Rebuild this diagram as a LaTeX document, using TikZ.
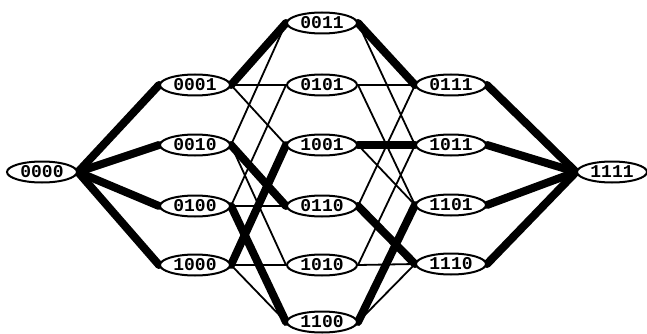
\documentclass[tikz,border=0pt]{standalone}
\usepackage{fontspec}
\setmonofont{Liberation Mono}
\usetikzlibrary{shapes.geometric}
\pgfdeclarelayer{edges}
\pgfsetlayers{edges,main}
\begin{document}
\begin{tikzpicture}[x=1pt,y=-1pt,
  vtx/.style={ellipse,draw,line width=2pt,fill=white,minimum width=70pt,minimum height=21pt,inner sep=0pt,font=\ttfamily\bfseries\fontsize{18}{18}\selectfont},
  thin/.style={line width=1.8pt},
  heavy/.style={line width=8pt,line cap=round}]
\useasboundingbox (0,0) rectangle (647,334);
% level 0
\node[vtx] (n0000) at (42,172) {0000};
% level 1
\node[vtx] (n0001) at (195,85) {0001};
\node[vtx] (n0010) at (195,145) {0010};
\node[vtx] (n0100) at (195,206) {0100};
\node[vtx] (n1000) at (195,265) {1000};
% level 2
\node[vtx] (n0011) at (322,23) {0011};
\node[vtx] (n0101) at (322,85) {0101};
\node[vtx] (n1001) at (322,145) {1001};
\node[vtx] (n0110) at (322,206) {0110};
\node[vtx] (n1010) at (322,265) {1010};
\node[vtx] (n1100) at (322,322) {1100};
% level 3
\node[vtx] (n0111) at (451,85) {0111};
\node[vtx] (n1011) at (451,145) {1011};
\node[vtx] (n1101) at (451,205) {1101};
\node[vtx] (n1110) at (451,264) {1110};
% level 4
\node[vtx] (n1111) at (612,172) {1111};
\begin{pgfonlayer}{edges}
\foreach \a/\b in {0001/0101,0001/1001,0010/0011,0010/1010,0100/0101,0100/0110,1000/1010,1000/1100,
                   0011/1011,0101/0111,0101/1101,1001/1101,0110/0111,1010/1011,1010/1110,1100/1110}
  \draw[thin] (n\a.east) -- (n\b.west);
\foreach \a/\b in {0000/0001,0000/0010,0000/0100,0000/1000,
                   0001/0011,0010/0110,0100/1100,1000/1001,
                   0011/0111,1001/1011,0110/1110,1100/1101,
                   0111/1111,1011/1111,1101/1111,1110/1111}
  \draw[heavy] (n\a.east) -- (n\b.west);
\end{pgfonlayer}
\end{tikzpicture}
\end{document}
